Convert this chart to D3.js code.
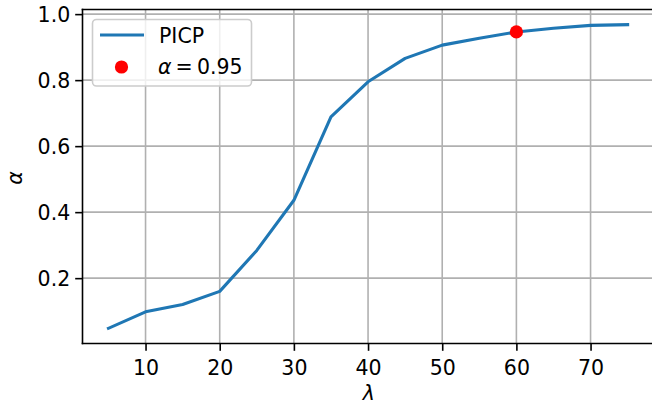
<!DOCTYPE html>
<html>
<head>
<meta charset="utf-8">
<script src="https://cdn.jsdelivr.net/npm/d3@7"></script>
<style>
  html, body { margin: 0; padding: 0; background: #fff; }
  svg { display: block; }
  text { font-family: "DejaVu Sans", sans-serif; fill: #000; }
</style>
</head>
<body>
<svg id="chart" width="652" height="406"></svg>
<script>
const lambdas = [5, 10, 15, 20, 25, 30, 35, 40, 45, 50, 55, 60, 65, 70, 75];
const picp = [0.048, 0.098, 0.12, 0.16, 0.284, 0.436, 0.689, 0.795, 0.866, 0.906, 0.927, 0.946, 0.957, 0.966, 0.968];
const markerPoint = [{ lambda: 60, alpha: 0.946 }];
const xTicks = [10, 20, 30, 40, 50, 60, 70];
const yTicks = [0.2, 0.4, 0.6, 0.8, 1.0];

const svg = d3.select("#chart");
const fs = 20.5;

const x = d3.scaleLinear().domain([1.5, 78.5]).range([82.5, 653.6]);
const y = d3.scaleLinear().domain([0.002, 1.014]).range([343.5, 9.5]);
const [x0, x1] = x.range();
const [y0, y1] = y.range();

// grid
const grid = svg.append("g");
grid.selectAll(".gx").data(xTicks).join("line")
  .attr("x1", d => x(d)).attr("x2", d => x(d))
  .attr("y1", y0).attr("y2", y1)
  .attr("stroke", "#b0b0b0").attr("stroke-width", 1.6);
grid.selectAll(".gy").data(yTicks).join("line")
  .attr("x1", x0).attr("x2", x1)
  .attr("y1", d => y(d)).attr("y2", d => y(d))
  .attr("stroke", "#b0b0b0").attr("stroke-width", 1.6);

// axes
const xAxis = d3.axisBottom(x).tickValues(xTicks).tickFormat(d3.format("d"))
  .tickSizeInner(7.3).tickSizeOuter(0).tickPadding(5);
const yAxis = d3.axisLeft(y).tickValues(yTicks).tickFormat(d3.format(".1f"))
  .tickSizeInner(7.3).tickSizeOuter(0).tickPadding(5);

const gx = svg.append("g").attr("transform", `translate(0,${y0})`).call(xAxis);
const gy = svg.append("g").attr("transform", `translate(${x0},0)`).call(yAxis);
[gx, gy].forEach(g => {
  g.select(".domain").remove();
  g.selectAll(".tick line").attr("stroke", "#000").attr("stroke-width", 1.6);
  g.selectAll(".tick text").attr("font-family", "DejaVu Sans").attr("font-size", fs).attr("fill", "#000");
});
gx.selectAll(".tick text").attr("dy", "0.95em");
gy.selectAll(".tick text").attr("dy", "0.36em");

// spines
const sp = svg.append("g").attr("stroke", "#000").attr("stroke-width", 1.6);
sp.append("line").attr("x1", x0).attr("x2", x0).attr("y1", y0 + 0.8).attr("y2", y1 - 0.8);
sp.append("line").attr("x1", x0 - 0.8).attr("x2", x1).attr("y1", y0).attr("y2", y0);
sp.append("line").attr("x1", x0 - 0.8).attr("x2", x1).attr("y1", y1).attr("y2", y1);

// line
const line = d3.line().x((d, i) => x(lambdas[i])).y(d => y(d));
svg.append("path").datum(picp)
  .attr("d", line).attr("fill", "none")
  .attr("stroke", "#1f77b4").attr("stroke-width", 3.1)
  .attr("stroke-linejoin", "round").attr("stroke-linecap", "square");

// marker
svg.selectAll(".pt").data(markerPoint).join("circle")
  .attr("cx", d => x(d.lambda)).attr("cy", d => y(d.alpha))
  .attr("r", 6.6).attr("fill", "#ff0000");

// axis labels
svg.append("text").attr("x", (x0 + 654) / 2 + 0.5).attr("y", 400)
  .attr("text-anchor", "middle").attr("font-size", fs).attr("font-style", "italic").text("λ");
svg.append("text").attr("transform", "translate(22,178) rotate(-90)")
  .attr("text-anchor", "middle").attr("font-size", fs).attr("font-style", "italic").text("α");

// legend
const lg = svg.append("g");
lg.append("rect").attr("x", 92.5).attr("y", 19.5).attr("width", 159).attr("height", 66.5)
  .attr("rx", 4).attr("fill", "#fff").attr("fill-opacity", 0.8)
  .attr("stroke", "#cccccc").attr("stroke-width", 1.6);
lg.append("line").attr("x1", 100).attr("x2", 144).attr("y1", 35).attr("y2", 35)
  .attr("stroke", "#1f77b4").attr("stroke-width", 3.1);
lg.append("text").attr("x", 159).attr("y", 42.5).attr("font-size", fs).text("PICP");
lg.append("circle").attr("cx", 121.5).attr("cy", 67).attr("r", 6.6).attr("fill", "#ff0000");
const t2 = lg.append("text").attr("x", 158).attr("y", 74).attr("font-size", fs);
t2.append("tspan").attr("font-style", "italic").text("α");
t2.append("tspan").text("\u2009=\u20090.95");
</script>
</body>
</html>
